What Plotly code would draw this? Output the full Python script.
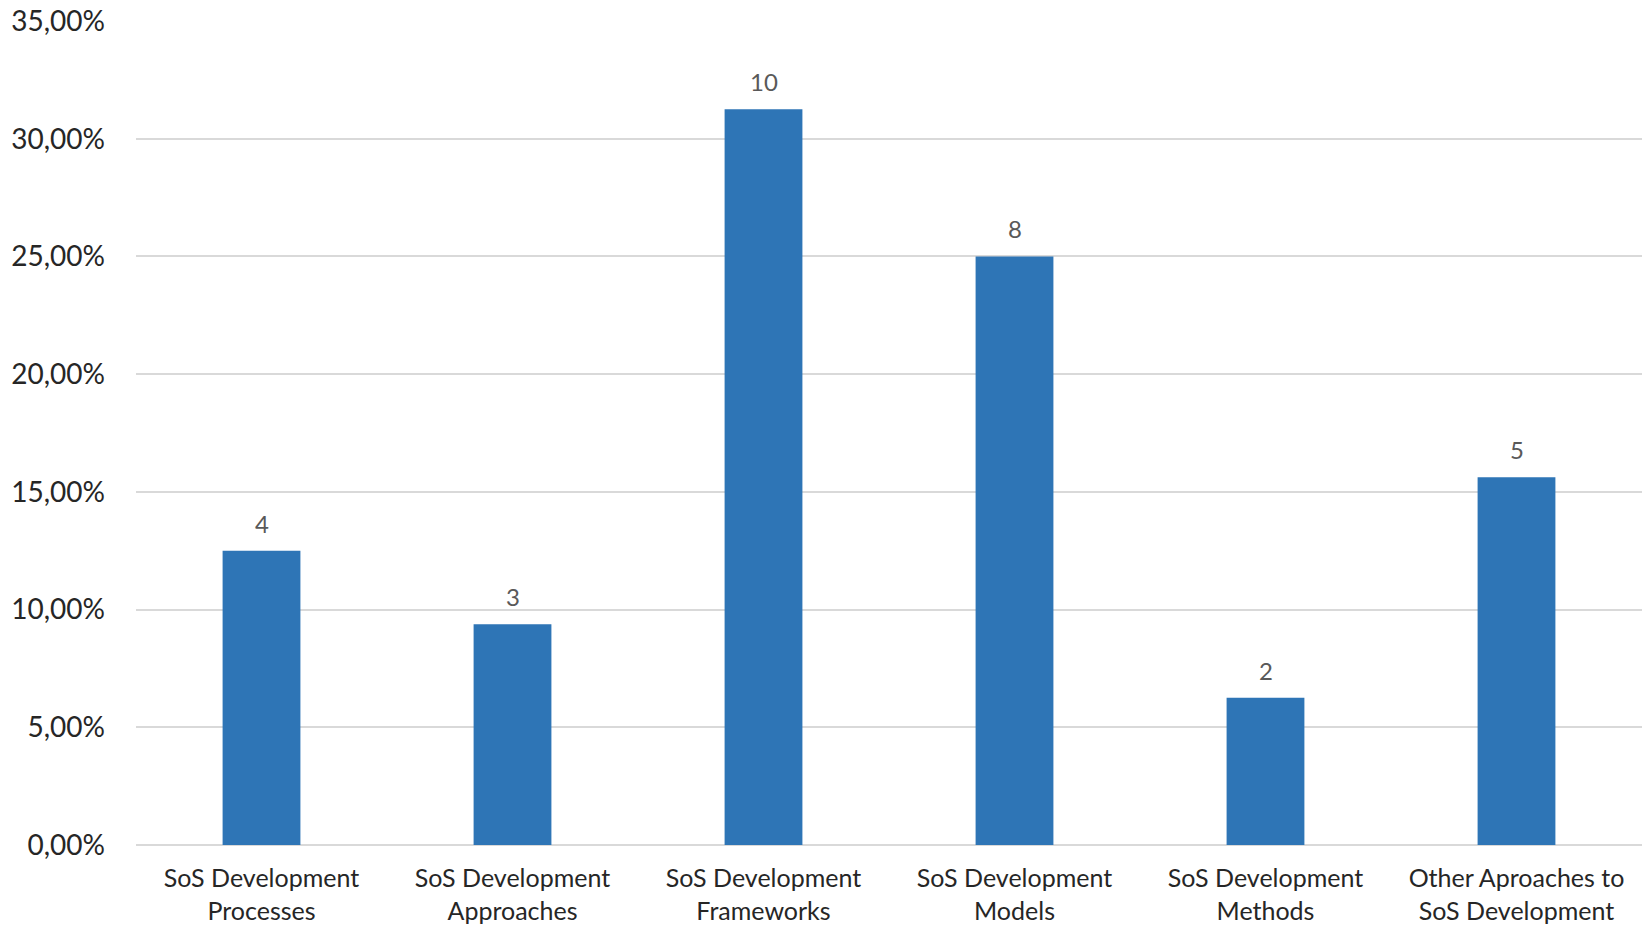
import plotly.graph_objects as go

categories = [
    "SoS Development<br>Processes",
    "SoS Development<br>Approaches",
    "SoS Development<br>Frameworks",
    "SoS Development<br>Models",
    "SoS Development<br>Methods",
    "Other Aproaches to<br>SoS Development",
]
shares = [0.125, 0.09375, 0.3125, 0.25, 0.0625, 0.15625]
counts = [4, 3, 10, 8, 2, 5]

FONT = "Lato, 'Open Sans', sans-serif"

fig = go.Figure()
fig.add_trace(go.Bar(
    x=categories, y=shares,
    marker=dict(color="#2E75B6", line=dict(width=0)),
    hoverinfo="skip",
))

for c, v, n in zip(categories, shares, counts):
    fig.add_annotation(
        x=c, y=v, text=str(n), showarrow=False,
        yanchor="bottom", yshift=11,
        font=dict(family=FONT, size=24, color="#595959"),
    )

fig.update_layout(
    width=1644, height=928,
    margin=dict(l=136, r=2, t=21, b=83, autoexpand=False),
    paper_bgcolor="white", plot_bgcolor="white",
    separators=",.",
    bargap=0.69,
    showlegend=False,
    font=dict(family=FONT, size=24, color="#262626"),
)
fig.update_xaxes(
    showgrid=False, showline=False, ticks="", automargin=False,
    tickfont=dict(family=FONT, size=25, color="#262626"),
    ticklabelstandoff=16,
)
fig.update_yaxes(
    range=[0, 0.35], dtick=0.05, tickformat=".2%", automargin=False,
    showgrid=True, gridcolor="#D9D9D9", gridwidth=2,
    zeroline=True, zerolinecolor="#D9D9D9", zerolinewidth=2,
    showline=False, ticks="",
    tickfont=dict(family=FONT, size=28, color="#262626"),
    ticklabelstandoff=30,
)

fig.write_html("out.html")
